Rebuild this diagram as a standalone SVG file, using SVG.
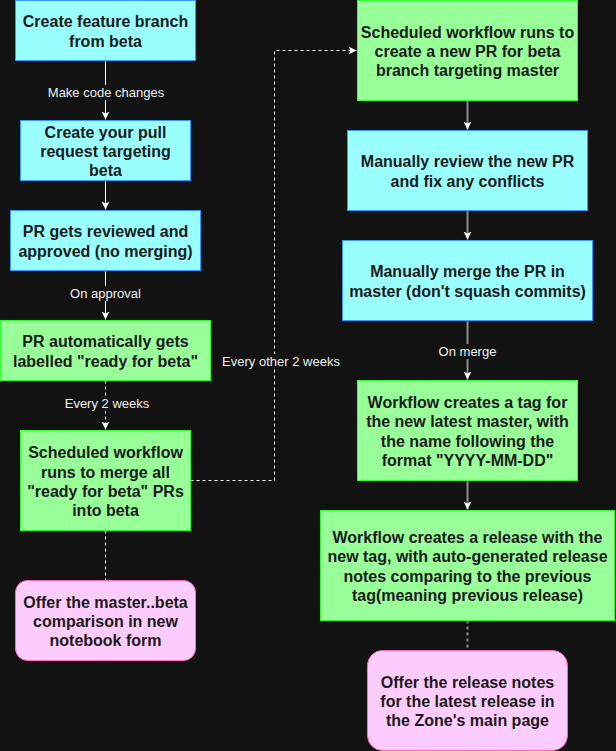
<svg xmlns="http://www.w3.org/2000/svg" width="616" height="751" viewBox="0 0 616 751">
<style>
.bg{fill:#121212}
.cy{fill:#99ffff;stroke:#3399ff;stroke-width:1}
.gr{fill:#99ff99;stroke:#33ff33;stroke-width:1}
.pk{fill:#ffccff;stroke:#ff66b3;stroke-width:1}
.nt{font-family:"Liberation Sans",Arial,sans-serif;font-size:16px;font-weight:bold;fill:#1a1a1a;text-anchor:middle}
.el{font-family:"Liberation Sans",Arial,sans-serif;font-size:13px;fill:#f0f0f0;text-anchor:middle}
.lw{fill:none;stroke:#ffffff;stroke-width:1}
.lg{fill:none;stroke:#8c8c8c;stroke-width:2}
.dash{stroke-dasharray:3 3}
.lbg{fill:#121212}
</style>
<defs>
<marker id="arw" viewBox="0 -5 10 10" refX="8" refY="0" markerWidth="10" markerHeight="10" markerUnits="userSpaceOnUse" orient="auto">
<path d="M0,-4 L8,0 L0,4 L2,0 Z" fill="#ffffff"/>
</marker>
</defs>
<rect class="bg" x="0" y="0" width="616" height="751"/>
<g id="connectors">
<path class="lw" d="M105.5,60.5 L105.5,119.5" marker-end="url(#arw)"/>
<path class="lw" d="M105.5,180.5 L105.5,209.5" marker-end="url(#arw)"/>
<path class="lw" d="M105.5,270.5 L105.5,319.5" marker-end="url(#arw)"/>
<path class="lw dash" d="M105.5,380.5 L105.5,429.5" marker-end="url(#arw)"/>
<path class="lw dash" d="M105.5,530.5 L105.5,580.5"/>
<path class="lw dash" d="M190.5,480.5 L274.5,480.5 L274.5,50.5 L356.5,50.5" marker-end="url(#arw)"/>
<path class="lg" d="M467.5,100.5 L467.5,129.5" marker-end="url(#arw)"/>
<path class="lg" d="M467.5,210.5 L467.5,239.5" marker-end="url(#arw)"/>
<path class="lg" d="M467.5,320.5 L467.5,379.5" marker-end="url(#arw)"/>
<path class="lg" d="M467.5,480.5 L467.5,509.5" marker-end="url(#arw)"/>
<path class="lg dash" d="M467.5,620.5 L467.5,650.5"/>
<rect class="lbg" x="47" y="85" width="118" height="15"/>
<text class="el" x="106" y="97">Make code changes</text>
<rect class="lbg" x="69" y="286" width="72" height="15"/>
<text class="el" x="105.5" y="298">On approval</text>
<rect class="lbg" x="64" y="396" width="86" height="15"/>
<text class="el" x="107" y="408">Every 2 weeks</text>
<rect class="lbg" x="221" y="354" width="120" height="15"/>
<text class="el" x="281" y="366.3">Every other 2 weeks</text>
<rect class="lbg" x="437" y="344" width="61" height="15"/>
<text class="el" x="467.5" y="356.3">On merge</text>
</g>
<g id="n1">
<rect class="cy" x="15.5" y="0.5" width="180" height="60"/>
<text class="nt" x="105.5"><tspan x="105.5" y="26.7">Create feature branch</tspan><tspan x="105.5" y="46.7">from beta</tspan></text>
</g>
<g id="n2">
<rect class="cy" x="20.5" y="120.5" width="170" height="60"/>
<text class="nt"><tspan x="105.5" y="138.4">Create your pull</tspan><tspan x="105.5" y="157.4">request targeting</tspan><tspan x="105.5" y="176.4">beta</tspan></text>
</g>
<g id="n3">
<rect class="cy" x="10.5" y="210.5" width="190" height="60"/>
<text class="nt"><tspan x="105.5" y="237.4">PR gets reviewed and</tspan><tspan x="105.5" y="257.4">approved (no merging)</tspan></text>
</g>
<g id="n4">
<rect class="gr" x="0.5" y="320.5" width="210" height="60"/>
<text class="nt"><tspan x="105.5" y="347.4">PR automatically gets</tspan><tspan x="105.5" y="367.4">labelled "ready for beta"</tspan></text>
</g>
<g id="n5">
<rect class="gr" x="20.5" y="430.5" width="170" height="100"/>
<text class="nt"><tspan x="105.5" y="458.4">Scheduled workflow</tspan><tspan x="105.5" y="477.6">runs to merge all</tspan><tspan x="105.5" y="496.8">"ready for beta" PRs</tspan><tspan x="105.5" y="516">into beta</tspan></text>
</g>
<g id="n6">
<rect class="pk" x="15.5" y="580.5" width="180" height="80" rx="12" ry="12"/>
<text class="nt"><tspan x="105.5" y="608.4">Offer the master..beta</tspan><tspan x="105.5" y="627.4">comparison in new</tspan><tspan x="105.5" y="646">notebook form</tspan></text>
</g>
<g id="n7">
<rect class="gr" x="357.5" y="0.5" width="220" height="100"/>
<text class="nt"><tspan x="467.5" y="38.4">Scheduled workflow runs to</tspan><tspan x="467.5" y="57.4">create a new PR for beta</tspan><tspan x="467.5" y="76.4">branch targeting master</tspan></text>
</g>
<g id="n8">
<rect class="cy" x="347.5" y="130.5" width="240" height="80"/>
<text class="nt"><tspan x="467.5" y="167.4">Manually review the new PR</tspan><tspan x="467.5" y="187.4">and fix any conflicts</tspan></text>
</g>
<g id="n9">
<rect class="cy" x="342.5" y="240.5" width="250" height="80"/>
<text class="nt"><tspan x="467.5" y="277.4">Manually merge the PR in</tspan><tspan x="467.5" y="297.4">master (don't squash commits)</tspan></text>
</g>
<g id="n10">
<rect class="gr" x="357.5" y="380.5" width="220" height="100"/>
<text class="nt"><tspan x="467.5" y="408.4">Workflow creates a tag for</tspan><tspan x="467.5" y="427.4">the new latest master, with</tspan><tspan x="467.5" y="446.7">the name following the</tspan><tspan x="467.5" y="465.7">format "YYYY-MM-DD"</tspan></text>
</g>
<g id="n11">
<rect class="gr" x="320.5" y="510.5" width="294" height="110"/>
<text class="nt"><tspan x="467.5" y="543">Workflow creates a release with the</tspan><tspan x="467.5" y="562.4">new tag, with auto-generated release</tspan><tspan x="467.5" y="582">notes comparing to the previous</tspan><tspan x="467.5" y="601.4">tag(meaning previous release)</tspan></text>
</g>
<g id="n12">
<rect class="pk" x="367.5" y="650.5" width="200" height="100" rx="15" ry="15"/>
<text class="nt"><tspan x="467.5" y="688.4">Offer the release notes</tspan><tspan x="467.5" y="707.4">for the latest release in</tspan><tspan x="467.5" y="726.4">the Zone's main page</tspan></text>
</g>
</svg>
